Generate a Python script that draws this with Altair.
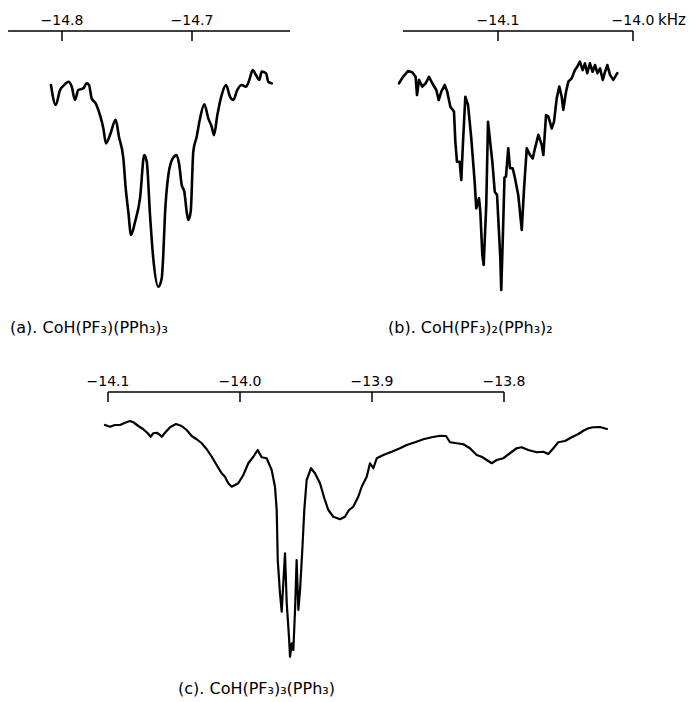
import altair as alt
import pandas as pd

# ---------------- data ----------------
a_freq = [-14.8085, -14.8048, -14.8015, -14.7982, -14.7952, -14.7925, -14.79, -14.7875, -14.7836, -14.781,
          -14.7792, -14.7772, -14.7741, -14.7708, -14.7682, -14.7662, -14.7631, -14.7587, -14.7562, -14.7528,
          -14.751, -14.749, -14.7469, -14.7438, -14.74, -14.7367, -14.7348, -14.7323, -14.7298, -14.7259,
          -14.7233, -14.7221, -14.7208, -14.7182, -14.7148, -14.7118, -14.7098, -14.7079, -14.7059, -14.7041,
          -14.7028, -14.701, -14.699, -14.6964, -14.6938, -14.6905, -14.6875, -14.6848, -14.6831, -14.6805,
          -14.6772, -14.6738, -14.6708, -14.6682, -14.6652, -14.6618, -14.6585, -14.6559, -14.6533, -14.6508,
          -14.6482, -14.6464, -14.6431, -14.6413, -14.6387]
a_signal = [93.5, 84.8, 91.3, 93.5, 94.9, 92.7, 87.0, 91.3, 92.0, 94.2,
            93.5, 87.7, 85.5, 80.4, 74.7, 68.1, 71.7, 78.3, 71.0, 61.6,
            48.6, 38.4, 28.3, 34.0, 44.2, 63.0, 60.1, 37.0, 18.1, 5.8,
            9.4, 19.6, 37.0, 54.3, 61.6, 63.0, 58.7, 50.0, 47.1, 38.4,
            34.8, 38.4, 64.5, 71.0, 79.0, 85.1, 79.0, 75.3, 71.7, 80.4,
            89.1, 93.5, 88.4, 87.0, 91.3, 93.5, 92.7, 95.7, 100.0, 97.8,
            95.7, 99.3, 98.6, 94.9, 94.2]

b_freq = [-14.1733, -14.1704, -14.1667, -14.1635, -14.161, -14.16, -14.1585, -14.1561, -14.1536, -14.1511,
          -14.1487, -14.1457, -14.1439, -14.142, -14.1395, -14.1376, -14.1353, -14.1326, -14.1316, -14.1304,
          -14.1284, -14.1272, -14.1259, -14.1242, -14.1222, -14.1198, -14.1173, -14.1161, -14.1141, -14.1131,
          -14.1116, -14.1106, -14.1087, -14.1074, -14.1061, -14.1042, -14.1024, -14.1007, -14.0993, -14.0983,
          -14.0976, -14.0963, -14.0952, -14.0941, -14.0924, -14.0911, -14.0891, -14.0874, -14.085, -14.0824,
          -14.0807, -14.0787, -14.0763, -14.0743, -14.0726, -14.0701, -14.0676, -14.0664, -14.0644, -14.0627,
          -14.0602, -14.0585, -14.0565, -14.0546, -14.0528, -14.0516, -14.0496, -14.0479, -14.0454, -14.043,
          -14.0413, -14.0393, -14.0373, -14.0356, -14.0339, -14.0319, -14.0299, -14.0281, -14.0264, -14.0244,
          -14.0224, -14.0207, -14.019, -14.017, -14.0146, -14.0116]
b_signal = [90.3, 93.0, 95.4, 94.9, 93.0, 85.4, 91.7, 88.9, 90.3, 93.0,
            90.3, 87.5, 83.3, 86.8, 89.6, 86.8, 80.5, 78.5, 66.0, 57.6,
            57.6, 50.0, 66.0, 84.7, 81.3, 67.4, 49.3, 38.2, 42.4, 36.8,
            18.8, 14.6, 39.6, 74.3, 67.4, 57.6, 45.1, 43.8, 28.5, 17.4,
            4.2, 28.5, 51.0, 51.4, 63.2, 54.9, 54.9, 50.7, 43.8, 29.2,
            46.5, 63.2, 60.4, 59.0, 63.2, 68.8, 64.6, 60.4, 77.1, 76.4,
            71.5, 74.3, 84.0, 88.9, 84.7, 79.2, 86.8, 91.0, 92.4, 95.8,
            97.2, 99.3, 95.8, 98.6, 94.5, 98.6, 95.1, 97.9, 94.5, 96.5,
            91.7, 95.1, 97.9, 93.8, 91.7, 94.5]

c_freq = [-14.1023, -14.0985, -14.0947, -14.0909, -14.0871, -14.0833, -14.0808, -14.077, -14.0733, -14.0699,
          -14.0677, -14.0657, -14.0631, -14.0606, -14.0593, -14.0568, -14.053, -14.0485, -14.0442, -14.0404,
          -14.0366, -14.0328, -14.029, -14.0252, -14.0214, -14.0177, -14.0139, -14.0114, -14.0089, -14.0063,
          -14.0013, -13.9975, -13.9937, -13.9899, -13.9866, -13.9836, -13.9798, -13.976, -13.9735, -13.9722,
          -13.9714, -13.9697, -13.9684, -13.9672, -13.9659, -13.9646, -13.9629, -13.9621, -13.9608, -13.9596,
          -13.9583, -13.9571, -13.9558, -13.9545, -13.9528, -13.9513, -13.9495, -13.9462, -13.9432, -13.9394,
          -13.9361, -13.9331, -13.9293, -13.9242, -13.9205, -13.9174, -13.9142, -13.9104, -13.9078, -13.904,
          -13.9015, -13.899, -13.8964, -13.8914, -13.8851, -13.8788, -13.8737, -13.8674, -13.8611, -13.8548,
          -13.8485, -13.8439, -13.8409, -13.8358, -13.8308, -13.8258, -13.8207, -13.8169, -13.8131, -13.8093,
          -13.8055, -13.8005, -13.7955, -13.7904, -13.7866, -13.7816, -13.7752, -13.7702, -13.7664, -13.7626,
          -13.7589, -13.7538, -13.7487, -13.7437, -13.7399, -13.7361, -13.7324, -13.7273, -13.722]
c_signal = [98.0, 97.3, 98.0, 98.0, 98.9, 99.6, 99.1, 97.6, 96.3, 94.7,
            93.3, 94.7, 94.9, 94.0, 93.3, 94.9, 97.1, 98.4, 97.6, 96.0,
            93.6, 92.3, 90.7, 88.3, 85.3, 82.0, 78.7, 77.3, 74.7, 73.3,
            74.7, 78.0, 82.7, 85.3, 88.0, 85.1, 84.7, 80.0, 73.3, 64.0,
            44.0, 30.7, 23.3, 34.7, 46.7, 26.7, 13.3, 5.3, 10.7, 8.0,
            24.0, 44.0, 24.0, 32.0, 48.0, 64.0, 76.0, 80.7, 78.7, 74.7,
            68.7, 64.0, 61.3, 60.3, 61.3, 64.0, 65.3, 69.3, 73.3, 77.3,
            82.7, 80.7, 84.7, 86.0, 87.3, 88.7, 90.0, 91.1, 92.3, 93.1,
            93.7, 93.6, 91.1, 90.7, 90.3, 88.7, 86.0, 85.3, 84.0, 82.7,
            84.0, 84.7, 86.7, 88.7, 89.1, 88.0, 87.1, 87.3, 86.4, 88.7,
            91.1, 91.6, 93.1, 94.4, 95.7, 96.7, 97.1, 97.2, 96.4]

a_ticks = [-14.8, -14.7]
a_tick_labels = ["\u221214.8", "\u221214.7"]
a_axis_extent = [-14.8415, -14.6246]

b_ticks = [-14.1, -14.0]
b_tick_labels = ["\u221214.1", "\u221214.0"]
b_axis_extent = [-14.1704, -14.0]

c_ticks = [-14.1, -14.0, -13.9, -13.8]
c_tick_labels = ["\u221214.1", "\u221214.0", "\u221213.9", "\u221213.8"]
c_axis_extent = [-14.1, -13.8]

unit_label = "kHz"
captions = ["(a). CoH(PF\u2083)(PPh\u2083)\u2083",
            "(b). CoH(PF\u2083)\u2082(PPh\u2083)\u2082",
            "(c). CoH(PF\u2083)\u2083(PPh\u2083)"]

# ---------------- layout / style ----------------
W, H = 693, 702
FONT = "DejaVu Sans"


def x_domain(anchor_val, anchor_px, px_per_unit):
    return [anchor_val - anchor_px / px_per_unit, anchor_val + (W - anchor_px) / px_per_unit]


def y_domain(base_px, px_per_unit):
    return [(base_px - H) / px_per_unit, base_px / px_per_unit]


def panel(freq, signal, ticks, labels, extent, xdom, ydom, axis_px, label_px,
          caption, cap_x, cap_px, lw, interp="linear", unit=None):
    xs = alt.Scale(domain=xdom, nice=False, zero=False)
    ys = alt.Scale(domain=ydom, nice=False, zero=False)
    curve_df = pd.DataFrame({"freq": freq, "signal": signal, "i": list(range(len(freq)))})
    line = alt.Chart(curve_df).mark_line(
        color="black", strokeWidth=lw, strokeJoin="round", strokeCap="round",
        clip=False, interpolate=interp
    ).encode(
        x=alt.X("freq:Q", scale=xs, axis=None),
        y=alt.Y("signal:Q", scale=ys, axis=None),
        order="i:Q",
    )
    ext_df = pd.DataFrame({"lo": [extent[0]], "hi": [extent[1]]})
    axis_line = alt.Chart(ext_df).mark_rule(color="black", strokeWidth=1.5).encode(
        x=alt.X("lo:Q", scale=xs, axis=None), x2="hi:Q", y=alt.value(axis_px)
    )
    tick_df = pd.DataFrame({"v": ticks, "label": labels})
    tick_marks = alt.Chart(tick_df).mark_rule(color="black", strokeWidth=1.5).encode(
        x=alt.X("v:Q", scale=xs, axis=None), y=alt.value(axis_px), y2=alt.value(axis_px + 10)
    )
    tick_text = alt.Chart(tick_df).mark_text(
        font=FONT, fontSize=14, color="black", baseline="alphabetic", align="center"
    ).encode(x=alt.X("v:Q", scale=xs, axis=None), y=alt.value(label_px), text="label:N")
    cap = alt.Chart(pd.DataFrame({"t": [caption]})).mark_text(
        font=FONT, fontSize=16, color="black", align="left", baseline="alphabetic"
    ).encode(x=alt.value(cap_x), y=alt.value(cap_px), text="t:N")
    layers = [line, axis_line, tick_marks, tick_text, cap]
    if unit is not None:
        unit_df = pd.DataFrame({"v": [ticks[-1]], "t": [unit]})
        layers.append(
            alt.Chart(unit_df).mark_text(
                font=FONT, fontSize=15, color="black", baseline="alphabetic", align="left", dx=25
            ).encode(x=alt.X("v:Q", scale=xs, axis=None), y=alt.value(label_px), text="t:N")
        )
    return alt.layer(*layers)


pa = panel(a_freq, a_signal, a_ticks, a_tick_labels, a_axis_extent,
           x_domain(-14.8, 62, 1300), y_domain(300, 2.3), 31, 25,
           captions[0], 10, 333, 2.6, interp="monotone")
pb = panel(b_freq, b_signal, b_ticks, b_tick_labels, b_axis_extent,
           x_domain(-14.1, 498, 1350), y_domain(300, 2.4), 31, 25,
           captions[1], 388, 333, 2.6, unit=unit_label)
pc = panel(c_freq, c_signal, c_ticks, c_tick_labels, c_axis_extent,
           x_domain(-14.1, 108, 1320), y_domain(670, 2.5), 392, 386,
           captions[2], 178, 694, 2.2)

chart = (
    alt.layer(pa, pb, pc)
    .resolve_scale(x="independent", y="independent")
    .properties(width=W, height=H, autosize=alt.AutoSizeParams(type="none"), padding=0)
    .configure_view(stroke=None)
)

chart.save("out.html", embed_options={"renderer": "svg", "actions": False})
